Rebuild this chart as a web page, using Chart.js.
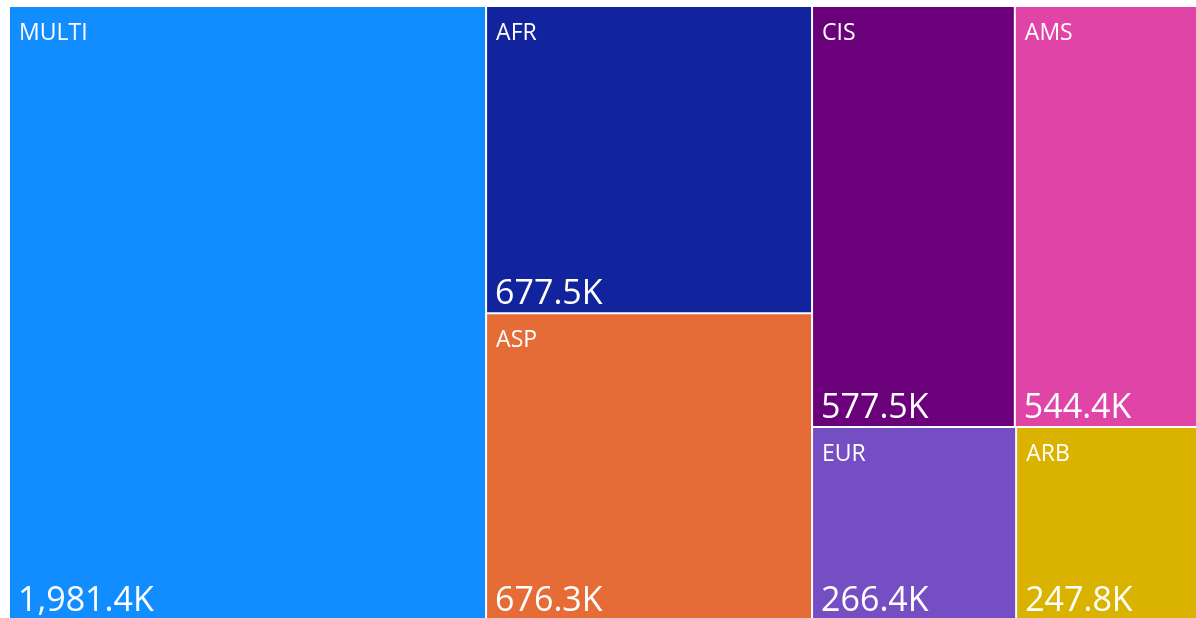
<!DOCTYPE html>
<html>
<head>
<meta charset="utf-8">
<script src="https://cdn.jsdelivr.net/npm/chart.js"></script>
<style>
  html, body { margin: 0; padding: 0; background: #fff; overflow: hidden; }
  #wrap { position: absolute; left: 0; top: 0; width: 1212px; height: 626px; }
</style>
</head>
<body>
<div id="wrap"><canvas id="chart"></canvas></div>
<script>
'use strict';

const categories = ['MULTI', 'AFR', 'ASP', 'CIS', 'AMS', 'EUR', 'ARB'];
const amounts = [1981.4, 677.5, 676.3, 577.5, 544.4, 266.4, 247.8]; // thousands
const cellColors = ['#118DFF', '#12239E', '#E66C37', '#6B007B', '#E044A7', '#744EC2', '#D9B300'];

// squarified layout (same rule as d3.treemapSquarify, golden ratio)
function squarify(values, x0, y0, x1, y1) {
    const ratio = (1 + Math.sqrt(5)) / 2;
    const rects = [];
    const n = values.length;
    let value = values.reduce((a, b) => a + b, 0);
    let i0 = 0, i1 = 0;
    while (i0 < n) {
        const dx = x1 - x0, dy = y1 - y0;
        let sum = values[i1++];
        let minV = sum, maxV = sum;
        const alpha = Math.max(dy / dx, dx / dy) / (value * ratio);
        let beta = sum * sum * alpha;
        let minRatio = Math.max(maxV / beta, beta / minV);
        for (; i1 < n; ++i1) {
            const v = values[i1];
            sum += v;
            if (v < minV) minV = v;
            if (v > maxV) maxV = v;
            beta = sum * sum * alpha;
            const newRatio = Math.max(maxV / beta, beta / minV);
            if (newRatio > minRatio) { sum -= v; break; }
            minRatio = newRatio;
        }
        const row = values.slice(i0, i1);
        if (dx < dy) {
            // row across the top
            const yb = y0 + dy * sum / value;
            let x = x0;
            row.forEach((v, k) => {
                const w = dx * v / sum;
                rects[i0 + k] = { x0: x, y0: y0, x1: x + w, y1: yb };
                x += w;
            });
            y0 = yb;
        } else {
            // column on the left
            const xb = x0 + dx * sum / value;
            let y = y0;
            row.forEach((v, k) => {
                const h = dy * v / sum;
                rects[i0 + k] = { x0: x0, y0: y, x1: xb, y1: y + h };
                y += h;
            });
            x0 = xb;
        }
        value -= sum;
        i0 = i1;
    }
    return rects;
}

class TreemapController extends Chart.DatasetController {
    update(mode) {
        const meta = this._cachedMeta;
        this.updateElements(meta.data, 0, meta.data.length, mode);
    }

    updateElements(cells, start, count, mode) {
        const { xScale, yScale } = this._cachedMeta;
        const values = this.getDataset().data;
        const aspect = (xScale.right - xScale.left) / (yScale.bottom - yScale.top) || 1;
        const boxes = squarify(values, 0, 0, aspect, 1);
        for (let i = start; i < start + count; i++) {
            const b = boxes[i];
            const left = xScale.getPixelForValue(b.x0 / aspect);
            const right = xScale.getPixelForValue(b.x1 / aspect);
            const top = yScale.getPixelForValue(b.y0);
            const bottom = yScale.getPixelForValue(b.y1);
            this.updateElement(cells[i], i, {
                x: (left + right) / 2,
                y: top,
                base: bottom,
                width: right - left,
                height: bottom - top,
                horizontal: false,
                inflateAmount: 0,
                borderSkipped: {},
                options: this.resolveDataElementOptions(i, mode)
            }, mode);
        }
    }
}
TreemapController.id = 'treemap';
TreemapController.defaults = { datasetElementType: false, dataElementType: 'bar' };
Chart.register(TreemapController);

function formatK(v) {
    return v.toLocaleString('en-US', { minimumFractionDigits: 1, maximumFractionDigits: 1 }) + 'K';
}

// category name top-left, value bottom-left
const cellLabels = {
    id: 'cellLabels',
    afterDatasetsDraw(chart) {
        const ctx = chart.ctx;
        const meta = chart.getDatasetMeta(0);
        ctx.save();
        ctx.fillStyle = '#ffffff';
        ctx.textAlign = 'left';
        ctx.textBaseline = 'alphabetic';
        meta.data.forEach((el, i) => {
            const left = el.x - el.width / 2;
            ctx.font = '23px "Open Sans", sans-serif';
            ctx.fillText(chart.data.labels[i], left + 10, el.y + 34);
            ctx.font = '34px "Open Sans", sans-serif';
            ctx.fillText(formatK(chart.data.datasets[0].data[i]), left + 9, el.base - 9);
        });
        ctx.restore();
    }
};

function renderChart() {
    const canvasElem = document.getElementById('chart');
    new Chart(canvasElem, {
        type: 'treemap',
        data: {
            labels: categories,
            datasets: [{
                data: amounts,
                backgroundColor: cellColors,
                borderColor: '#ffffff',
                borderWidth: 1
            }]
        },
        options: {
            responsive: true,
            maintainAspectRatio: false,
            animation: false,
            events: [],
            layout: { padding: { left: 9, top: 6, right: 6, bottom: 6 } },
            scales: {
                x: { type: 'linear', display: false, min: 0, max: 1 },
                y: { type: 'linear', display: false, min: 0, max: 1, reverse: true }
            },
            plugins: {
                legend: { display: false },
                tooltip: { enabled: false }
            }
        },
        plugins: [cellLabels]
    });
}

document.addEventListener('DOMContentLoaded', renderChart);
</script>
</body>
</html>
